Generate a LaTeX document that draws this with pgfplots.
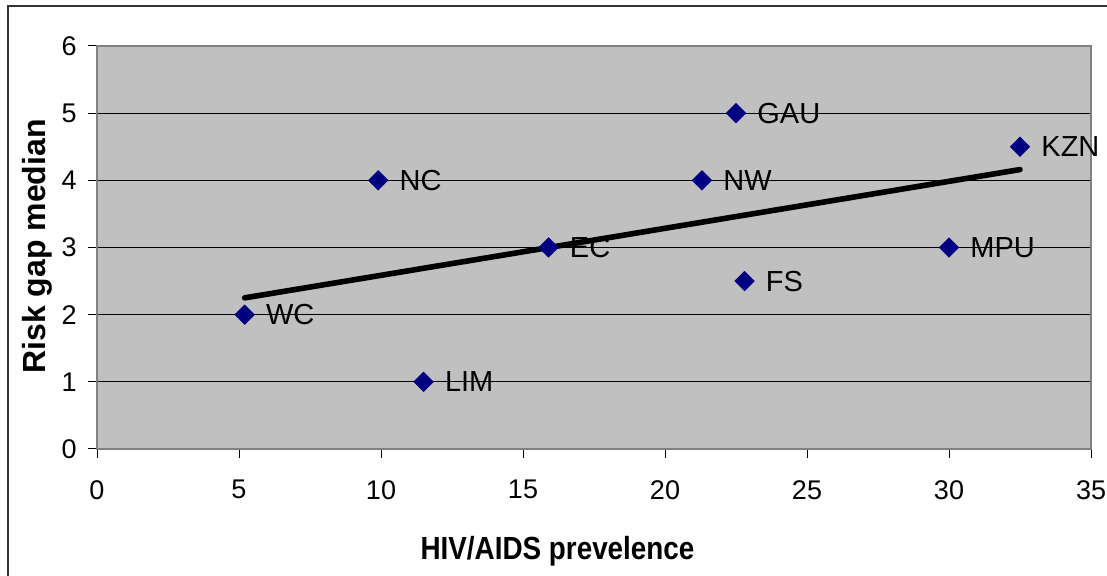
\documentclass[border=0pt]{standalone}
\usepackage{pgfplots}
\pgfplotsset{compat=1.18}
\usepackage{pgfplotstable}
\usepackage{fontspec}
\setmainfont{Liberation Sans}
\definecolor{plotbg}{HTML}{C0C0C0}
\definecolor{navy}{HTML}{000080}
\definecolor{framegray}{HTML}{808080}
\pgfplotstableread{
x y lab
5.2 2 WC
9.9 4 NC
11.5 1 LIM
15.9 3 EC
21.3 4 NW
22.5 5 GAU
22.8 2.5 FS
30 3 MPU
32.5 4.5 KZN
}\datatable
\pgfplotstableread{
x y
5.2 2.25
32.5 4.16
}\trendtable
\begin{document}
\begin{tikzpicture}[x=0.5pt,y=0.5pt]
\useasboundingbox (0pt,0pt) rectangle (553.5pt,288pt);
\begin{scope}
\clip (0pt,0pt) rectangle (553.5pt,288pt);
\draw[line width=1pt, color=black!80] (4pt,285pt) rectangle (565pt,-10pt);
\end{scope}
\begin{axis}[
  at={(48.5pt,63.5pt)}, anchor=south west,
  scale only axis, width=497pt, height=201.5pt,
  xmin=0, xmax=35, ymin=0, ymax=6,
  xtick={0,5,...,35}, ytick={0,1,...,6},
  axis background/.style={fill=plotbg},
  axis line style={draw=framegray, line width=1pt},
  ymajorgrids, grid style={black, line width=0.5pt},
  tick align=outside, major tick length=4.5pt,
  tick style={black, line width=0.5pt},
  xtick pos=bottom, ytick pos=left,
  /pgf/number format/assume math mode=true,
  ticklabel style={font=\fontsize{13.5}{15}\selectfont},
  xticklabel style={anchor=north, inner sep=0pt, yshift=-11pt},
  yticklabel style={anchor=east, inner sep=0pt, xshift=-5.5pt},
  clip=false,
]
\addplot[only marks, mark=square*, mark size=3.4pt,
  mark options={rotate=45, fill=navy, draw=navy},
  point meta=explicit symbolic,
  nodes near coords={\pgfplotspointmeta},
  every node near coord/.append style={anchor=west, inner sep=0pt, xshift=10.5pt,
     font=\fontsize{14.5}{16}\selectfont, text=black},
] table[x=x, y=y, meta=lab] {\datatable};
\addplot[black, line width=2.8pt, line cap=round] table[x=x,y=y] {\trendtable};
\end{axis}
\node[rotate=90, anchor=base, font=\bfseries\fontsize{16}{18}\selectfont] at (22.5pt,164.75pt) {Risk gap median};
\node[anchor=base, xscale=0.87, font=\bfseries\fontsize{16}{18}\selectfont] at (278.75pt,8pt) {HIV/AIDS prevelence};
\end{tikzpicture}
\end{document}
